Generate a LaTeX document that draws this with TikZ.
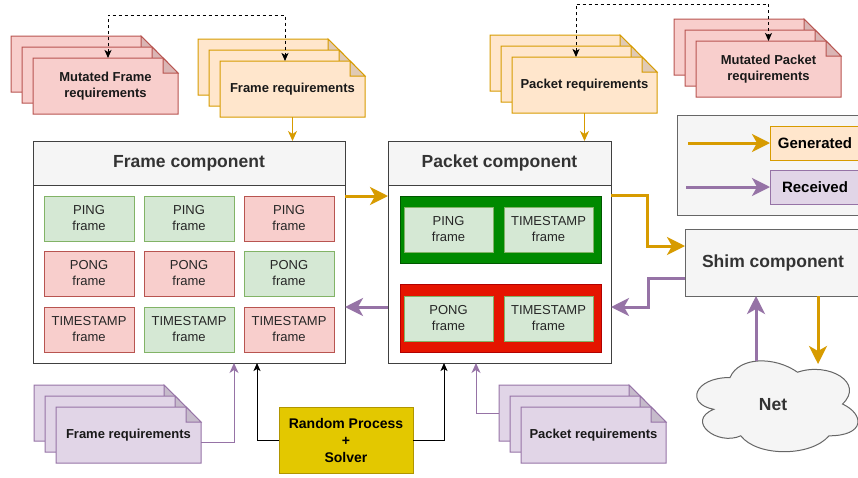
\documentclass[tikz,border=0pt]{standalone}
\usepackage{fontspec}
\setmainfont{Liberation Sans}
\usetikzlibrary{arrows.meta,calc}
\definecolor{gfill}{HTML}{D5E8D4}
\definecolor{gline}{HTML}{82B366}
\definecolor{rfill}{HTML}{F8CECC}
\definecolor{rline}{HTML}{B85450}
\definecolor{ofill}{HTML}{FFE6CC}
\definecolor{oline}{HTML}{D79B00}
\definecolor{pfill}{HTML}{E1D5E7}
\definecolor{pline}{HTML}{9673A6}
\definecolor{headfill}{HTML}{F5F5F5}
\definecolor{grayline}{HTML}{666666}
\definecolor{titlecol}{HTML}{333333}
\definecolor{dgreen}{HTML}{008A00}
\definecolor{dgreenline}{HTML}{005700}
\definecolor{dred}{HTML}{E51400}
\definecolor{dredline}{HTML}{B20000}
\definecolor{yfill}{HTML}{E3C800}
\definecolor{yline}{HTML}{B09500}
\newcommand\docstack[6]{%
  \foreach \k in {2,1,0}{%
    \pgfmathsetmacro\xx{#2-11*\k}%
    \pgfmathsetmacro\yy{#3-11*\k}%
    \filldraw[fill=#4, draw=#5, line width=1pt] (\xx,\yy) -- ++(130,0) -- ++(15,15) -- ++(0,41) -- ++(-145,0) -- cycle;
    \filldraw[fill=#4!88!black, draw=#5, line width=1pt] (\xx+130,\yy) -- ++(0,15) -- ++(15,0) -- cycle;
  }
  \node[doctext] (#1) at (#2+72.5,#3+28) {#6};
}
\begin{document}
\begin{tikzpicture}[x=1pt,y=-1pt,
  base/.style={inner sep=0pt, outer sep=0pt, align=center},
  fgreen/.style={base, draw=gline, fill=gfill, line width=1pt, minimum width=90pt, minimum height=45pt, font=\fontsize{13}{16}\selectfont, text=black!85},
  fred/.style={fgreen, draw=rline, fill=rfill},
  compbody/.style={base, draw=black!75, fill=white, line width=1pt, minimum height=222pt},
  comphead/.style={base, draw=black!75, fill=headfill, line width=1pt, minimum height=44pt, font=\bfseries\fontsize{17.5}{21}\selectfont, text=titlecol},
  doctext/.style={base, font=\bfseries\fontsize{13}{16}\selectfont, minimum width=145pt, minimum height=56pt, text=black!90},
  legbox/.style={base, line width=1pt, minimum width=90pt, minimum height=34pt, font=\bfseries\fontsize{15}{18}\selectfont},
  bigtip/.style={-{Stealth[length=18pt,width=18pt,inset=5pt]}},
  genthick/.style={draw=oline, line width=3pt, bigtip},
  recthick/.style={draw=pline, line width=3pt, bigtip},
  genthin/.style={draw=oline, line width=1pt, -{Stealth[length=10pt,width=9pt,inset=3pt]}},
  recthin/.style={draw=pline, line width=1pt, -{Stealth[length=10pt,width=9pt,inset=3pt]}},
  blk/.style={draw=black, line width=1pt, -{Stealth[length=8pt,width=7pt,inset=2pt]}},
  dashconn/.style={draw=black, line width=1pt, dash pattern=on 3pt off 3pt, {Stealth[length=8pt,width=7pt,inset=2pt]}-{Stealth[length=8pt,width=7pt,inset=2pt]}}
]
\useasboundingbox (0,0) rectangle (858,477);
\clip (0,0) rectangle (858,477);

% ---- document stacks
\docstack{mfr}{33}{58}{rfill}{rline}{Mutated Frame\\requirements}
\docstack{fr}{220}{61}{ofill}{oline}{Frame requirements}
\docstack{pr}{512}{57}{ofill}{oline}{Packet requirements}
\docstack{mpr}{696}{41}{rfill}{rline}{Mutated Packet\\requirements}
\docstack{bfr}{56}{407}{pfill}{pline}{Frame requirements}
\docstack{bpr}{521}{407}{pfill}{pline}{Packet requirements}

% ---- frame component
\node[compbody, minimum width=312pt] (fc) at (189,252) {};
\node[comphead, minimum width=312pt] (fch) at (189,163) {Frame component};
\node[fgreen] (f11) at (89,218.5) {PING\\frame};
\node[fgreen] (f12) at (189,218.5) {PING\\frame};
\node[fred]   (f13) at (289,218.5) {PING\\frame};
\node[fred]   (f21) at (89,273.5) {PONG\\frame};
\node[fred]   (f22) at (189,273.5) {PONG\\frame};
\node[fgreen] (f23) at (289,273.5) {PONG\\frame};
\node[fred]   (f31) at (89,329.5) {TIMESTAMP\\frame};
\node[fgreen] (f32) at (189,329.5) {TIMESTAMP\\frame};
\node[fred]   (f33) at (289,329.5) {TIMESTAMP\\frame};

% ---- packet component
\node[compbody, minimum width=223pt] (pc) at (499.5,252) {};
\node[comphead, minimum width=223pt] (pch) at (499.5,163) {Packet component};
\node[base, draw=dgreenline, fill=dgreen, line width=1pt, minimum width=201pt, minimum height=67pt] (gbox) at (500.5,229.5) {};
\node[base, draw=dredline, fill=dred, line width=1pt, minimum width=201pt, minimum height=68pt] (rbox) at (500.5,318) {};
\node[fgreen, minimum width=89pt] (p1) at (448.5,229.5) {PING\\frame};
\node[fgreen, minimum width=89pt] (p2) at (548.5,229.5) {TIMESTAMP\\frame};
\node[fgreen, minimum width=89pt] (p3) at (448.5,318.5) {PONG\\frame};
\node[fgreen, minimum width=89pt] (p4) at (548.5,318.5) {TIMESTAMP\\frame};

% ---- shim, legend, net, random
\node[base, draw=grayline, fill=headfill, line width=1pt, minimum width=176pt, minimum height=67pt, font=\bfseries\fontsize{17.5}{21}\selectfont, text=titlecol] (sh) at (773,262.5) {Shim component};
\node[base, draw=grayline, fill=headfill, line width=1pt, minimum width=200pt, minimum height=100pt] (leg) at (777,165) {};
\node[legbox, draw=oline, fill=ofill] (gen) at (815,143) {Generated};
\node[legbox, draw=pline, fill=pfill] (rec) at (815,187) {Received};

% cloud (draw.io cloud outline)
\filldraw[draw=grayline, fill=headfill, line width=1pt]
  (730,377.5) .. controls (694,377.5) and (685,404) .. (713.8,409.3)
  .. controls (685,421) and (717.4,446.4) .. (740.8,435.8)
  .. controls (757,457) and (811,457) .. (829,435.8)
  .. controls (865,435.8) and (865,414.6) .. (842.5,404)
  .. controls (865,382.8) and (829,361.6) .. (797.5,372.2)
  .. controls (775,356.3) and (739,356.3) .. (730,377.5) -- cycle;
\node[base, font=\bfseries\fontsize{17.5}{21}\selectfont, text=titlecol] (net) at (773,405) {Net};

\node[base, draw=yline, fill=yfill, line width=1pt, minimum width=134pt, minimum height=66pt, font=\bfseries\fontsize{14}{17}\selectfont] (rnd) at (346,440) {Random Process\\+\\Solver};

% ---- coordinates
\coordinate (d1) at (0,15);
\coordinate (d2) at (0,4);
\coordinate (k2) at (647,195);
\coordinate (k3) at (648,278);
\coordinate (k4) at (0,364);
\coordinate (k5) at (756,361);
\coordinate (k6) at (499,413);
\coordinate (ga) at (688,143);
\coordinate (ra) at (686,187);

% ---- connectors
\draw[dashconn] ([xshift=2.5pt]mfr.north) -- ([xshift=2.5pt]mfr.north |- d1) -| ([xshift=-7.5pt]fr.north);
\draw[dashconn] ([xshift=-8.5pt]pr.north) -- ([xshift=-8.5pt]pr.north |- d2) -| (mpr.north);
\draw[genthin] (fr.south) -- (fr.south |- fc.north);
\draw[genthin] (pr.south) -- (pr.south |- pc.north);
\draw[genthick] ([yshift=56pt]fc.east) -- ([yshift=56pt]pc.west);
\draw[recthick] ([yshift=-55pt]pc.west) -- ([yshift=-55pt]fc.east);
\draw[genthick] ([yshift=57pt]pc.east) -- (k2) |- ([yshift=16.5pt]sh.west);
\draw[recthick] (sh.west |- k3) -- (k3) |- ([yshift=-55pt]pc.east);
\draw[genthick] ([xshift=45pt]sh.south) -- ([xshift=45pt]sh.south |- k4);
\draw[recthick] (k5) -- (k5 |- sh.south);
\draw[blk] (rnd.west) -| ([xshift=68pt]fc.south);
\draw[blk] (rnd.east) -| ([xshift=-55.5pt]pc.south);
\draw[recthin] ([yshift=-7pt]bfr.east) -| ([xshift=45pt]fc.south);
\draw[recthin] (k6) -| ([xshift=-23.5pt]pc.south);
\draw[genthick] (ga) -- (gen.west);
\draw[recthick] (ra) -- (rec.west);
\end{tikzpicture}
\end{document}
